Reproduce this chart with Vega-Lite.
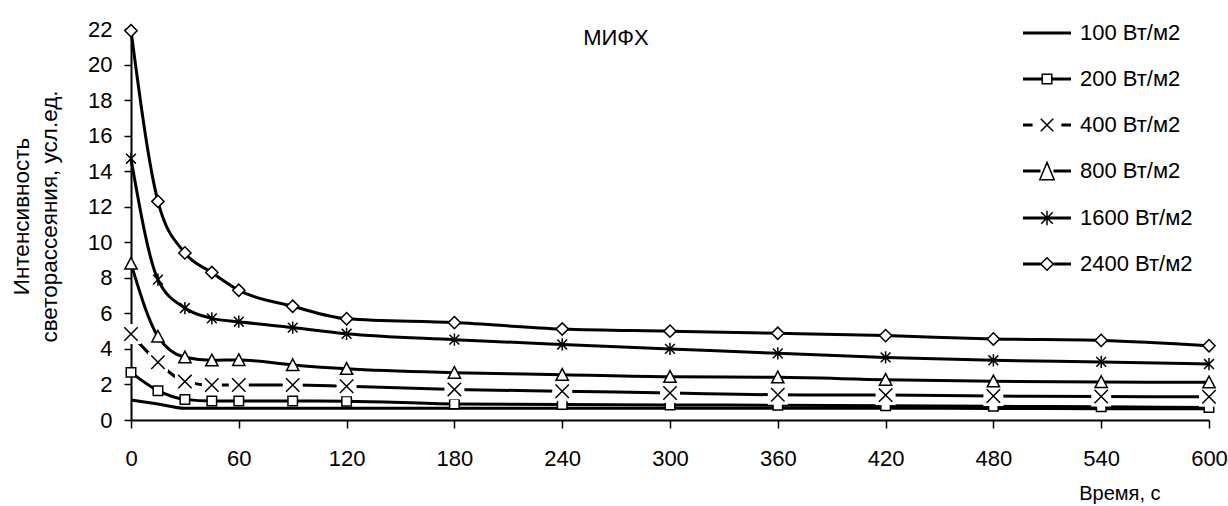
{
  "$schema": "https://vega.github.io/schema/vega-lite/v6.json",
  "width": 1078,
  "height": 391,
  "autosize": {"type": "none"},
  "padding": {"left": 131, "top": 29, "right": 19, "bottom": 86},
  "background": "white",
  "title": {"text": "МИФХ", "anchor": "middle", "frame": "group", "dx": -54, "offset": -59, "baseline": "alphabetic", "fontSize": 22, "font": "Liberation Sans", "fontWeight": "normal", "color": "black"},
  "config": {
    "view": {"stroke": null},
    "axis": {"grid": false, "labelFont": "Liberation Sans", "labelFontSize": 22, "labelColor": "black", "tickColor": "black", "domainColor": "black", "domainWidth": 2, "tickWidth": 1.5, "titleFont": "Liberation Sans", "titleFontWeight": "normal", "titleColor": "black", "labelFlush": false, "labelOverlap": false, "labelBound": false},
    "legend": {"labelFont": "Liberation Sans", "labelFontSize": 22, "labelColor": "black"}
  },
  "data": {"values": [
    {"t": 0, "series": "100 Вт/м2", "v": 1.13}, {"t": 15, "series": "100 Вт/м2", "v": 0.9}, {"t": 30, "series": "100 Вт/м2", "v": 0.66}, {"t": 45, "series": "100 Вт/м2", "v": 0.66}, {"t": 60, "series": "100 Вт/м2", "v": 0.66}, {"t": 90, "series": "100 Вт/м2", "v": 0.66}, {"t": 120, "series": "100 Вт/м2", "v": 0.66}, {"t": 180, "series": "100 Вт/м2", "v": 0.66}, {"t": 240, "series": "100 Вт/м2", "v": 0.66}, {"t": 300, "series": "100 Вт/м2", "v": 0.66}, {"t": 360, "series": "100 Вт/м2", "v": 0.66}, {"t": 420, "series": "100 Вт/м2", "v": 0.66}, {"t": 480, "series": "100 Вт/м2", "v": 0.65}, {"t": 540, "series": "100 Вт/м2", "v": 0.64}, {"t": 600, "series": "100 Вт/м2", "v": 0.63},
    {"t": 0, "series": "200 Вт/м2", "v": 2.68}, {"t": 15, "series": "200 Вт/м2", "v": 1.65}, {"t": 30, "series": "200 Вт/м2", "v": 1.16}, {"t": 45, "series": "200 Вт/м2", "v": 1.07}, {"t": 60, "series": "200 Вт/м2", "v": 1.07}, {"t": 90, "series": "200 Вт/м2", "v": 1.07}, {"t": 120, "series": "200 Вт/м2", "v": 1.06}, {"t": 180, "series": "200 Вт/м2", "v": 0.9}, {"t": 240, "series": "200 Вт/м2", "v": 0.87}, {"t": 300, "series": "200 Вт/м2", "v": 0.85}, {"t": 360, "series": "200 Вт/м2", "v": 0.83}, {"t": 420, "series": "200 Вт/м2", "v": 0.8}, {"t": 480, "series": "200 Вт/м2", "v": 0.77}, {"t": 540, "series": "200 Вт/м2", "v": 0.74}, {"t": 600, "series": "200 Вт/м2", "v": 0.7},
    {"t": 0, "series": "400 Вт/м2", "v": 4.84}, {"t": 15, "series": "400 Вт/м2", "v": 3.25}, {"t": 30, "series": "400 Вт/м2", "v": 2.16}, {"t": 45, "series": "400 Вт/м2", "v": 1.97}, {"t": 60, "series": "400 Вт/м2", "v": 1.97}, {"t": 90, "series": "400 Вт/м2", "v": 1.97}, {"t": 120, "series": "400 Вт/м2", "v": 1.9}, {"t": 180, "series": "400 Вт/м2", "v": 1.72}, {"t": 240, "series": "400 Вт/м2", "v": 1.62}, {"t": 300, "series": "400 Вт/м2", "v": 1.52}, {"t": 360, "series": "400 Вт/м2", "v": 1.42}, {"t": 420, "series": "400 Вт/м2", "v": 1.4}, {"t": 480, "series": "400 Вт/м2", "v": 1.35}, {"t": 540, "series": "400 Вт/м2", "v": 1.32}, {"t": 600, "series": "400 Вт/м2", "v": 1.31},
    {"t": 0, "series": "800 Вт/м2", "v": 8.8}, {"t": 15, "series": "800 Вт/м2", "v": 4.7}, {"t": 30, "series": "800 Вт/м2", "v": 3.53}, {"t": 45, "series": "800 Вт/м2", "v": 3.36}, {"t": 60, "series": "800 Вт/м2", "v": 3.38}, {"t": 90, "series": "800 Вт/м2", "v": 3.1}, {"t": 120, "series": "800 Вт/м2", "v": 2.88}, {"t": 180, "series": "800 Вт/м2", "v": 2.66}, {"t": 240, "series": "800 Вт/м2", "v": 2.55}, {"t": 300, "series": "800 Вт/м2", "v": 2.43}, {"t": 360, "series": "800 Вт/м2", "v": 2.4}, {"t": 420, "series": "800 Вт/м2", "v": 2.27}, {"t": 480, "series": "800 Вт/м2", "v": 2.18}, {"t": 540, "series": "800 Вт/м2", "v": 2.14}, {"t": 600, "series": "800 Вт/м2", "v": 2.12},
    {"t": 0, "series": "1600 Вт/м2", "v": 14.7}, {"t": 15, "series": "1600 Вт/м2", "v": 7.9}, {"t": 30, "series": "1600 Вт/м2", "v": 6.3}, {"t": 45, "series": "1600 Вт/м2", "v": 5.72}, {"t": 60, "series": "1600 Вт/м2", "v": 5.53}, {"t": 90, "series": "1600 Вт/м2", "v": 5.2}, {"t": 120, "series": "1600 Вт/м2", "v": 4.85}, {"t": 180, "series": "1600 Вт/м2", "v": 4.52}, {"t": 240, "series": "1600 Вт/м2", "v": 4.25}, {"t": 300, "series": "1600 Вт/м2", "v": 4.0}, {"t": 360, "series": "1600 Вт/м2", "v": 3.75}, {"t": 420, "series": "1600 Вт/м2", "v": 3.52}, {"t": 480, "series": "1600 Вт/м2", "v": 3.36}, {"t": 540, "series": "1600 Вт/м2", "v": 3.27}, {"t": 600, "series": "1600 Вт/м2", "v": 3.15},
    {"t": 0, "series": "2400 Вт/м2", "v": 21.9}, {"t": 15, "series": "2400 Вт/м2", "v": 12.3}, {"t": 30, "series": "2400 Вт/м2", "v": 9.4}, {"t": 45, "series": "2400 Вт/м2", "v": 8.3}, {"t": 60, "series": "2400 Вт/м2", "v": 7.3}, {"t": 90, "series": "2400 Вт/м2", "v": 6.4}, {"t": 120, "series": "2400 Вт/м2", "v": 5.7}, {"t": 180, "series": "2400 Вт/м2", "v": 5.48}, {"t": 240, "series": "2400 Вт/м2", "v": 5.12}, {"t": 300, "series": "2400 Вт/м2", "v": 5.0}, {"t": 360, "series": "2400 Вт/м2", "v": 4.88}, {"t": 420, "series": "2400 Вт/м2", "v": 4.75}, {"t": 480, "series": "2400 Вт/м2", "v": 4.56}, {"t": 540, "series": "2400 Вт/м2", "v": 4.48}, {"t": 600, "series": "2400 Вт/м2", "v": 4.18}
  ]},
  "encoding": {
    "x": {"field": "t", "type": "quantitative", "scale": {"domain": [0, 600], "nice": false, "zero": false},
      "axis": {"values": [0, 60, 120, 180, 240, 300, 360, 420, 480, 540, 600], "tickSize": 8, "labelPadding": 20, "title": "Время, с", "titleFontSize": 20, "titleX": 1029, "titleY": 79, "titleAlign": "right", "titleAnchor": "end", "titleBaseline": "alphabetic"}},
    "y": {"field": "v", "type": "quantitative", "scale": {"domain": [0, 22], "nice": false},
      "axis": {"values": [0, 2, 4, 6, 8, 10, 12, 14, 16, 18, 20, 22], "tickSize": 7, "labelPadding": 12, "title": ["Интенсивность", "светорассеяния, усл.ед."], "titleFontSize": 22.5, "titleLineHeight": 28.5, "titleX": -103, "titleY": 187, "titleAngle": -90, "titleAlign": "center", "titleBaseline": "alphabetic"}}
  },
  "layer": [
    {"mark": {"type": "line", "interpolate": "monotone", "color": "black", "strokeWidth": 3},
     "encoding": {"detail": {"field": "series"}}},
    {"transform": [{"filter": "datum.series === '200 Вт/м2'"}],
     "mark": {"type": "point", "shape": "square", "size": 90, "fill": "white", "stroke": "black", "strokeWidth": 1.5, "opacity": 1, "fillOpacity": 1}},
    {"transform": [{"filter": "datum.series === '400 Вт/м2'"}],
     "mark": {"type": "point", "shape": "square", "size": 400, "fill": "white", "strokeWidth": 0, "opacity": 1, "fillOpacity": 1}},
    {"transform": [{"filter": "datum.series === '400 Вт/м2'"}],
     "mark": {"type": "point", "shape": "M-1,-1L1,1M-1,1L1,-1", "size": 180, "stroke": "black", "strokeWidth": 1.5, "opacity": 1}},
    {"transform": [{"filter": "datum.series === '800 Вт/м2'"}],
     "mark": {"type": "point", "shape": "M0,-1L1,0.9L-1,0.9Z", "size": 150, "fill": "white", "stroke": "black", "strokeWidth": 1.5, "opacity": 1, "fillOpacity": 1}},
    {"transform": [{"filter": "datum.series === '1600 Вт/м2'"}],
     "mark": {"type": "point", "shape": "M0,-1L0,1M-0.8,-0.8L0.8,0.8M-0.8,0.8L0.8,-0.8", "size": 150, "stroke": "black", "strokeWidth": 1.5, "opacity": 1}},
    {"transform": [{"filter": "datum.series === '2400 Вт/м2'"}],
     "mark": {"type": "point", "shape": "diamond", "size": 150, "fill": "white", "stroke": "black", "strokeWidth": 1.5, "opacity": 1, "fillOpacity": 1}},
    {"mark": {"type": "point", "opacity": 0, "filled": false, "stroke": "black", "strokeWidth": 1.5},
     "encoding": {"shape": {"field": "series", "type": "nominal",
       "scale": {"domain": ["100 Вт/м2", "200 Вт/м2", "400 Вт/м2", "800 Вт/м2", "1600 Вт/м2", "2400 Вт/м2"],
         "range": [
           "M-1,-0.03H1M-1,0H1M-1,0.03H1",
           "M-1,-0.03H-0.21M-1,0H-0.21M-1,0.03H-0.21M0.21,-0.03H1M0.21,0H1M0.21,0.03H1M-0.2,-0.2H0.2V0.2H-0.2Z",
           "M-1,-0.03H-0.6M-1,0H-0.6M-1,0.03H-0.6M0.6,-0.03H1M0.6,0H1M0.6,0.03H1M-0.26,-0.26L0.26,0.26M-0.26,0.26L0.26,-0.26",
           "M-1,-0.03H-0.27M-1,0H-0.27M-1,0.03H-0.27M0.27,-0.03H1M0.27,0H1M0.27,0.03H1M0,-0.36L0.3,0.36L-0.3,0.36Z",
           "M-1,-0.03H1M-1,0H1M-1,0.03H1M0,-0.3L0,0.3M-0.24,-0.24L0.24,0.24M-0.24,0.24L0.24,-0.24",
           "M-1,-0.03H-0.27M-1,0H-0.27M-1,0.03H-0.27M0.27,-0.03H1M0.27,0H1M0.27,0.03H1M-0.26,0L0,-0.26L0.26,0L0,0.26Z"
         ]},
       "legend": {"title": null, "orient": "none", "legendX": 891, "legendY": -21, "padding": 0, "symbolSize": 2304, "symbolStrokeColor": "black", "symbolStrokeWidth": 1.5, "symbolFillColor": "white", "symbolOpacity": 1, "labelOffset": 8, "rowPadding": 10, "labelBaseline": "middle"}}}}
  ]
}
